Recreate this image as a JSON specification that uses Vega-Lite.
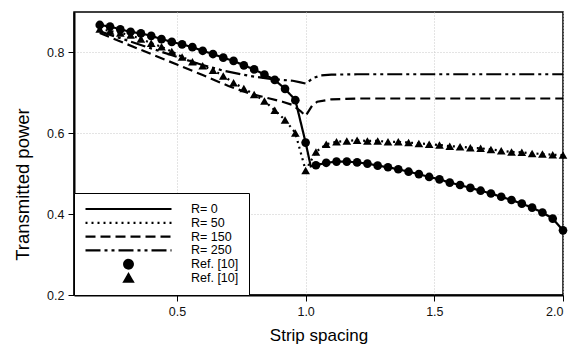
{
  "$schema": "https://vega.github.io/schema/vega-lite/v6.json",
  "width": 489,
  "height": 283,
  "autosize": {"type": "none"},
  "padding": {"left": 74, "top": 12, "right": 6, "bottom": 52},
  "background": "white",
  "config": {
    "view": {"stroke": "black", "strokeWidth": 1.5},
    "font": "Liberation Sans",
    "axis": {
      "domainColor": "black", "domainWidth": 2,
      "tickColor": "black", "tickSize": 6, "tickWidth": 1,
      "labelColor": "#111", "labelFontSize": 12.5, "labelFont": "Liberation Sans",
      "gridColor": "#c8c8c8", "gridDash": [1, 2], "gridWidth": 1,
      "titleFont": "Liberation Sans", "titleFontWeight": "normal", "titleColor": "black"
    },
    "legend": {
      "title": null, "orient": "bottom-left", "offset": 0, "padding": 10,
      "strokeColor": "black", "fillColor": "white", "cornerRadius": 0,
      "labelFontSize": 12.5, "labelFont": "Liberation Sans", "labelColor": "black",
      "labelOffset": 18, "clipHeight": 12, "rowPadding": 0.8,
      "symbolStrokeWidth": 2.2, "symbolStrokeColor": "black", "symbolFillColor": "black"
    }
  },
  "datasets": {
    "curves": [
      {"series": "R= 0", "x": 0.20, "y": 0.868}, {"series": "R= 0", "x": 0.24, "y": 0.864}, {"series": "R= 0", "x": 0.28, "y": 0.857},
      {"series": "R= 0", "x": 0.32, "y": 0.851}, {"series": "R= 0", "x": 0.36, "y": 0.847}, {"series": "R= 0", "x": 0.40, "y": 0.841},
      {"series": "R= 0", "x": 0.44, "y": 0.833}, {"series": "R= 0", "x": 0.48, "y": 0.826}, {"series": "R= 0", "x": 0.52, "y": 0.820},
      {"series": "R= 0", "x": 0.56, "y": 0.813}, {"series": "R= 0", "x": 0.60, "y": 0.804}, {"series": "R= 0", "x": 0.64, "y": 0.796},
      {"series": "R= 0", "x": 0.68, "y": 0.787}, {"series": "R= 0", "x": 0.72, "y": 0.779}, {"series": "R= 0", "x": 0.76, "y": 0.768},
      {"series": "R= 0", "x": 0.80, "y": 0.758}, {"series": "R= 0", "x": 0.84, "y": 0.745}, {"series": "R= 0", "x": 0.88, "y": 0.732},
      {"series": "R= 0", "x": 0.92, "y": 0.710}, {"series": "R= 0", "x": 0.96, "y": 0.682}, {"series": "R= 0", "x": 1.00, "y": 0.577},
      {"series": "R= 0", "x": 1.02, "y": 0.518},
      {"series": "R= 0", "x": 1.04, "y": 0.521}, {"series": "R= 0", "x": 1.08, "y": 0.527}, {"series": "R= 0", "x": 1.12, "y": 0.530},
      {"series": "R= 0", "x": 1.16, "y": 0.530}, {"series": "R= 0", "x": 1.20, "y": 0.528}, {"series": "R= 0", "x": 1.24, "y": 0.525},
      {"series": "R= 0", "x": 1.28, "y": 0.520}, {"series": "R= 0", "x": 1.32, "y": 0.516}, {"series": "R= 0", "x": 1.36, "y": 0.511},
      {"series": "R= 0", "x": 1.40, "y": 0.505}, {"series": "R= 0", "x": 1.44, "y": 0.499}, {"series": "R= 0", "x": 1.48, "y": 0.492},
      {"series": "R= 0", "x": 1.52, "y": 0.486}, {"series": "R= 0", "x": 1.56, "y": 0.478}, {"series": "R= 0", "x": 1.60, "y": 0.472},
      {"series": "R= 0", "x": 1.64, "y": 0.465}, {"series": "R= 0", "x": 1.68, "y": 0.458}, {"series": "R= 0", "x": 1.72, "y": 0.451},
      {"series": "R= 0", "x": 1.76, "y": 0.443}, {"series": "R= 0", "x": 1.80, "y": 0.435}, {"series": "R= 0", "x": 1.84, "y": 0.426},
      {"series": "R= 0", "x": 1.88, "y": 0.416}, {"series": "R= 0", "x": 1.92, "y": 0.404}, {"series": "R= 0", "x": 1.96, "y": 0.389},
      {"series": "R= 0", "x": 2.00, "y": 0.360},

      {"series": "R= 50", "x": 0.20, "y": 0.858}, {"series": "R= 50", "x": 0.24, "y": 0.853}, {"series": "R= 50", "x": 0.28, "y": 0.848},
      {"series": "R= 50", "x": 0.32, "y": 0.843}, {"series": "R= 50", "x": 0.36, "y": 0.833}, {"series": "R= 50", "x": 0.40, "y": 0.823},
      {"series": "R= 50", "x": 0.44, "y": 0.814}, {"series": "R= 50", "x": 0.48, "y": 0.802}, {"series": "R= 50", "x": 0.52, "y": 0.789},
      {"series": "R= 50", "x": 0.56, "y": 0.777}, {"series": "R= 50", "x": 0.60, "y": 0.767}, {"series": "R= 50", "x": 0.64, "y": 0.756},
      {"series": "R= 50", "x": 0.68, "y": 0.742}, {"series": "R= 50", "x": 0.72, "y": 0.725}, {"series": "R= 50", "x": 0.76, "y": 0.711},
      {"series": "R= 50", "x": 0.80, "y": 0.696}, {"series": "R= 50", "x": 0.84, "y": 0.680}, {"series": "R= 50", "x": 0.88, "y": 0.657},
      {"series": "R= 50", "x": 0.92, "y": 0.633}, {"series": "R= 50", "x": 0.96, "y": 0.601}, {"series": "R= 50", "x": 1.00, "y": 0.508},
      {"series": "R= 50", "x": 1.04, "y": 0.554}, {"series": "R= 50", "x": 1.08, "y": 0.573}, {"series": "R= 50", "x": 1.12, "y": 0.579},
      {"series": "R= 50", "x": 1.16, "y": 0.581}, {"series": "R= 50", "x": 1.20, "y": 0.583}, {"series": "R= 50", "x": 1.24, "y": 0.581},
      {"series": "R= 50", "x": 1.28, "y": 0.581}, {"series": "R= 50", "x": 1.32, "y": 0.579}, {"series": "R= 50", "x": 1.36, "y": 0.579},
      {"series": "R= 50", "x": 1.40, "y": 0.577}, {"series": "R= 50", "x": 1.44, "y": 0.575}, {"series": "R= 50", "x": 1.48, "y": 0.573},
      {"series": "R= 50", "x": 1.52, "y": 0.571}, {"series": "R= 50", "x": 1.56, "y": 0.568}, {"series": "R= 50", "x": 1.60, "y": 0.567},
      {"series": "R= 50", "x": 1.64, "y": 0.564}, {"series": "R= 50", "x": 1.68, "y": 0.563}, {"series": "R= 50", "x": 1.72, "y": 0.560},
      {"series": "R= 50", "x": 1.76, "y": 0.557}, {"series": "R= 50", "x": 1.80, "y": 0.554}, {"series": "R= 50", "x": 1.84, "y": 0.553},
      {"series": "R= 50", "x": 1.88, "y": 0.550}, {"series": "R= 50", "x": 1.92, "y": 0.549}, {"series": "R= 50", "x": 1.96, "y": 0.547},
      {"series": "R= 50", "x": 2.00, "y": 0.546},

      {"series": "R= 150", "x": 0.20, "y": 0.848}, {"series": "R= 150", "x": 0.30, "y": 0.822}, {"series": "R= 150", "x": 0.40, "y": 0.796},
      {"series": "R= 150", "x": 0.50, "y": 0.770}, {"series": "R= 150", "x": 0.60, "y": 0.744}, {"series": "R= 150", "x": 0.70, "y": 0.717},
      {"series": "R= 150", "x": 0.78, "y": 0.699}, {"series": "R= 150", "x": 0.86, "y": 0.686}, {"series": "R= 150", "x": 0.91, "y": 0.678},
      {"series": "R= 150", "x": 0.95, "y": 0.670}, {"series": "R= 150", "x": 0.98, "y": 0.655}, {"series": "R= 150", "x": 1.00, "y": 0.643},
      {"series": "R= 150", "x": 1.025, "y": 0.668}, {"series": "R= 150", "x": 1.045, "y": 0.678}, {"series": "R= 150", "x": 1.10, "y": 0.684},
      {"series": "R= 150", "x": 1.20, "y": 0.686}, {"series": "R= 150", "x": 1.50, "y": 0.686}, {"series": "R= 150", "x": 2.00, "y": 0.686},

      {"series": "R= 250", "x": 0.20, "y": 0.852}, {"series": "R= 250", "x": 0.30, "y": 0.831}, {"series": "R= 250", "x": 0.40, "y": 0.810},
      {"series": "R= 250", "x": 0.50, "y": 0.789}, {"series": "R= 250", "x": 0.60, "y": 0.769}, {"series": "R= 250", "x": 0.68, "y": 0.755},
      {"series": "R= 250", "x": 0.75, "y": 0.746}, {"series": "R= 250", "x": 0.80, "y": 0.740}, {"series": "R= 250", "x": 0.87, "y": 0.734},
      {"series": "R= 250", "x": 0.95, "y": 0.730}, {"series": "R= 250", "x": 0.98, "y": 0.726}, {"series": "R= 250", "x": 1.00, "y": 0.723},
      {"series": "R= 250", "x": 1.03, "y": 0.737}, {"series": "R= 250", "x": 1.06, "y": 0.743}, {"series": "R= 250", "x": 1.10, "y": 0.745},
      {"series": "R= 250", "x": 1.20, "y": 0.746}, {"series": "R= 250", "x": 1.50, "y": 0.746}, {"series": "R= 250", "x": 2.00, "y": 0.746}
    ],
    "refs": [
      {"series": "Ref. [10]", "x": 0.20, "y": 0.868}, {"series": "Ref. [10]", "x": 0.24, "y": 0.864}, {"series": "Ref. [10]", "x": 0.28, "y": 0.857},
      {"series": "Ref. [10]", "x": 0.32, "y": 0.851}, {"series": "Ref. [10]", "x": 0.36, "y": 0.847}, {"series": "Ref. [10]", "x": 0.40, "y": 0.841},
      {"series": "Ref. [10]", "x": 0.44, "y": 0.833}, {"series": "Ref. [10]", "x": 0.48, "y": 0.826}, {"series": "Ref. [10]", "x": 0.52, "y": 0.820},
      {"series": "Ref. [10]", "x": 0.56, "y": 0.813}, {"series": "Ref. [10]", "x": 0.60, "y": 0.804}, {"series": "Ref. [10]", "x": 0.64, "y": 0.796},
      {"series": "Ref. [10]", "x": 0.68, "y": 0.787}, {"series": "Ref. [10]", "x": 0.72, "y": 0.779}, {"series": "Ref. [10]", "x": 0.76, "y": 0.768},
      {"series": "Ref. [10]", "x": 0.80, "y": 0.758}, {"series": "Ref. [10]", "x": 0.84, "y": 0.745}, {"series": "Ref. [10]", "x": 0.88, "y": 0.732},
      {"series": "Ref. [10]", "x": 0.92, "y": 0.710}, {"series": "Ref. [10]", "x": 0.96, "y": 0.682}, {"series": "Ref. [10]", "x": 1.00, "y": 0.577},
      {"series": "Ref. [10]", "x": 1.04, "y": 0.521}, {"series": "Ref. [10]", "x": 1.08, "y": 0.527}, {"series": "Ref. [10]", "x": 1.12, "y": 0.530},
      {"series": "Ref. [10]", "x": 1.16, "y": 0.530}, {"series": "Ref. [10]", "x": 1.20, "y": 0.528}, {"series": "Ref. [10]", "x": 1.24, "y": 0.525},
      {"series": "Ref. [10]", "x": 1.28, "y": 0.520}, {"series": "Ref. [10]", "x": 1.32, "y": 0.516}, {"series": "Ref. [10]", "x": 1.36, "y": 0.511},
      {"series": "Ref. [10]", "x": 1.40, "y": 0.505}, {"series": "Ref. [10]", "x": 1.44, "y": 0.499}, {"series": "Ref. [10]", "x": 1.48, "y": 0.492},
      {"series": "Ref. [10]", "x": 1.52, "y": 0.486}, {"series": "Ref. [10]", "x": 1.56, "y": 0.478}, {"series": "Ref. [10]", "x": 1.60, "y": 0.472},
      {"series": "Ref. [10]", "x": 1.64, "y": 0.465}, {"series": "Ref. [10]", "x": 1.68, "y": 0.458}, {"series": "Ref. [10]", "x": 1.72, "y": 0.451},
      {"series": "Ref. [10]", "x": 1.76, "y": 0.443}, {"series": "Ref. [10]", "x": 1.80, "y": 0.435}, {"series": "Ref. [10]", "x": 1.84, "y": 0.426},
      {"series": "Ref. [10]", "x": 1.88, "y": 0.416}, {"series": "Ref. [10]", "x": 1.92, "y": 0.404}, {"series": "Ref. [10]", "x": 1.96, "y": 0.389},
      {"series": "Ref. [10]", "x": 2.00, "y": 0.360},

      {"series": "Ref. [10] ", "x": 0.20, "y": 0.858}, {"series": "Ref. [10] ", "x": 0.24, "y": 0.853}, {"series": "Ref. [10] ", "x": 0.28, "y": 0.848},
      {"series": "Ref. [10] ", "x": 0.32, "y": 0.843}, {"series": "Ref. [10] ", "x": 0.36, "y": 0.833}, {"series": "Ref. [10] ", "x": 0.40, "y": 0.823},
      {"series": "Ref. [10] ", "x": 0.44, "y": 0.814}, {"series": "Ref. [10] ", "x": 0.48, "y": 0.802}, {"series": "Ref. [10] ", "x": 0.52, "y": 0.789},
      {"series": "Ref. [10] ", "x": 0.56, "y": 0.777}, {"series": "Ref. [10] ", "x": 0.60, "y": 0.767}, {"series": "Ref. [10] ", "x": 0.64, "y": 0.756},
      {"series": "Ref. [10] ", "x": 0.68, "y": 0.742}, {"series": "Ref. [10] ", "x": 0.72, "y": 0.725}, {"series": "Ref. [10] ", "x": 0.76, "y": 0.711},
      {"series": "Ref. [10] ", "x": 0.80, "y": 0.696}, {"series": "Ref. [10] ", "x": 0.84, "y": 0.680}, {"series": "Ref. [10] ", "x": 0.88, "y": 0.657},
      {"series": "Ref. [10] ", "x": 0.92, "y": 0.633}, {"series": "Ref. [10] ", "x": 0.96, "y": 0.601}, {"series": "Ref. [10] ", "x": 1.00, "y": 0.508},
      {"series": "Ref. [10] ", "x": 1.04, "y": 0.554}, {"series": "Ref. [10] ", "x": 1.08, "y": 0.573}, {"series": "Ref. [10] ", "x": 1.12, "y": 0.579},
      {"series": "Ref. [10] ", "x": 1.16, "y": 0.581}, {"series": "Ref. [10] ", "x": 1.20, "y": 0.583}, {"series": "Ref. [10] ", "x": 1.24, "y": 0.581},
      {"series": "Ref. [10] ", "x": 1.28, "y": 0.581}, {"series": "Ref. [10] ", "x": 1.32, "y": 0.579}, {"series": "Ref. [10] ", "x": 1.36, "y": 0.579},
      {"series": "Ref. [10] ", "x": 1.40, "y": 0.577}, {"series": "Ref. [10] ", "x": 1.44, "y": 0.575}, {"series": "Ref. [10] ", "x": 1.48, "y": 0.573},
      {"series": "Ref. [10] ", "x": 1.52, "y": 0.571}, {"series": "Ref. [10] ", "x": 1.56, "y": 0.568}, {"series": "Ref. [10] ", "x": 1.60, "y": 0.567},
      {"series": "Ref. [10] ", "x": 1.64, "y": 0.564}, {"series": "Ref. [10] ", "x": 1.68, "y": 0.563}, {"series": "Ref. [10] ", "x": 1.72, "y": 0.560},
      {"series": "Ref. [10] ", "x": 1.76, "y": 0.557}, {"series": "Ref. [10] ", "x": 1.80, "y": 0.554}, {"series": "Ref. [10] ", "x": 1.84, "y": 0.553},
      {"series": "Ref. [10] ", "x": 1.88, "y": 0.550}, {"series": "Ref. [10] ", "x": 1.92, "y": 0.549}, {"series": "Ref. [10] ", "x": 1.96, "y": 0.547},
      {"series": "Ref. [10] ", "x": 2.00, "y": 0.546}
    ]
  },
  "encoding": {
    "x": {
      "field": "x", "type": "quantitative",
      "scale": {"domain": [0.1, 2.0], "nice": false, "zero": false},
      "axis": {
        "title": "Strip spacing", "values": [0.5, 1.0, 1.5, 2.0], "format": ".1f",
        "titleFontSize": 17, "titleY": 45, "titleBaseline": "alphabetic", "labelPadding": 4
      }
    },
    "y": {
      "field": "y", "type": "quantitative",
      "scale": {"domain": [0.2, 0.9], "nice": false, "zero": false},
      "axis": {
        "title": "Transmitted power", "values": [0.2, 0.4, 0.6, 0.8], "format": ".1f",
        "titleFontSize": 18.5, "titleX": -42, "titleY": 172, "labelPadding": 4
      }
    }
  },
  "layer": [
    {
      "data": {"name": "curves"},
      "mark": {"type": "line", "color": "black", "strokeWidth": 2.2, "strokeCap": "butt"},
      "encoding": {
        "strokeDash": {
          "field": "series", "type": "nominal",
          "scale": {
            "domain": ["R= 0", "R= 50", "R= 150", "R= 250", "Ref. [10]", "Ref. [10] "],
            "range": [[1, 0], [2, 4], [10, 5], [15, 4, 3, 4, 3, 4], [1, 0], [1, 0]]
          }
        }
      }
    },
    {
      "data": {"name": "refs"},
      "mark": {"type": "point", "filled": true, "color": "black", "opacity": 1},
      "encoding": {
        "shape": {
          "field": "series", "type": "nominal",
          "scale": {
            "domain": ["R= 0", "R= 50", "R= 150", "R= 250", "Ref. [10]", "Ref. [10] "],
            "range": ["stroke", "stroke", "stroke", "stroke", "circle", "triangle-up"]
          }
        },
        "size": {
          "field": "series", "type": "nominal",
          "scale": {
            "type": "ordinal",
            "domain": ["R= 0", "R= 50", "R= 150", "R= 250", "Ref. [10]", "Ref. [10] "],
            "range": [7396, 7396, 7396, 7396, 75, 75]
          }
        },
        "fill": {
          "field": "series", "type": "nominal",
          "scale": {
            "domain": ["R= 0", "R= 50", "R= 150", "R= 250", "Ref. [10]", "Ref. [10] "],
            "range": ["transparent", "transparent", "transparent", "transparent", "black", "black"]
          }
        }
      }
    }
  ]
}
